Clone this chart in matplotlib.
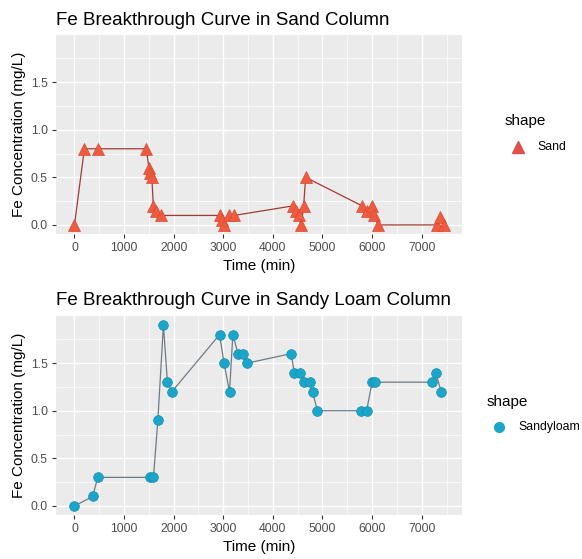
import numpy as np
import matplotlib.pyplot as plt
from matplotlib.lines import Line2D

plt.rcParams['font.family'] = ['Liberation Sans', 'DejaVu Sans']

# Sand column
sand_time = [0, 200, 480, 1450, 1500, 1530, 1560, 1590, 1650, 1740, 2940, 2980, 3010, 3110, 3220,
             4400, 4470, 4520, 4570, 4620, 4660, 5800, 5900, 6000, 6040, 6120, 7300, 7370, 7440]
sand_fe = [0.0, 0.8, 0.8, 0.8, 0.6, 0.55, 0.5, 0.2, 0.15, 0.1, 0.1, 0.05, 0.0, 0.1, 0.1,
           0.2, 0.15, 0.1, 0.0, 0.2, 0.5, 0.2, 0.15, 0.2, 0.1, 0.0, 0.0, 0.08, 0.0]

# Sandy loam column
loam_time = [0, 370, 467, 1519, 1593, 1681, 1793, 1874, 1963, 2926, 3015, 3126, 3193, 3296, 3393,
             3481, 4370, 4430, 4541, 4630, 4741, 4800, 4896, 5778, 5889, 6000, 6052, 7207, 7281, 7393]
loam_fe = [0.0, 0.1, 0.3, 0.3, 0.3, 0.9, 1.9, 1.3, 1.2, 1.8, 1.5, 1.2, 1.8, 1.6, 1.6,
           1.5, 1.6, 1.4, 1.4, 1.3, 1.3, 1.2, 1.0, 1.0, 1.0, 1.3, 1.3, 1.3, 1.4, 1.2]

x_ticks = [0, 1000, 2000, 3000, 4000, 5000, 6000, 7000]
y_ticks = [0.0, 0.5, 1.0, 1.5]

W, H = 582, 559
fig = plt.figure(figsize=(W / 100, H / 100), dpi=100)


def px_axes(left, top, right, bottom):
    return fig.add_axes([left / W, 1 - bottom / H, (right - left) / W, (bottom - top) / H])


def gg_style(ax):
    ax.set_facecolor('#EBEBEB')
    for s in ax.spines.values():
        s.set_visible(False)
    ax.set_xlim(-372, 7812)
    ax.set_ylim(-0.095, 1.995)
    ax.set_xticks(x_ticks)
    ax.set_yticks(y_ticks)
    ax.set_yticklabels(['0.0', '0.5', '1.0', '1.5'])
    ax.set_xticks(np.arange(500, 7800, 1000), minor=True)
    ax.set_yticks([0.25, 0.75, 1.25, 1.75], minor=True)
    ax.grid(True, which='major', color='white', lw=1.0)
    ax.grid(True, which='minor', color='white', lw=0.5)
    ax.set_axisbelow(True)
    ax.tick_params(which='major', length=3, width=0.8, color='#333333',
                   labelsize=8.8, labelcolor='#4D4D4D', pad=3)
    ax.tick_params(which='minor', length=0)
    ax.set_xlabel('Time (min)', fontsize=11, labelpad=3)
    ax.set_ylabel('Fe Concentration (mg/L)', fontsize=11, labelpad=3)


# Top panel: sand
ax1 = px_axes(56, 35, 462, 234)
gg_style(ax1)
ax1.plot(sand_time, sand_fe, color='#A23A33', lw=0.9, zorder=2)
ax1.plot(sand_time, sand_fe, ls='none', marker='^', ms=8, color='#EE5B3F',
         markeredgecolor='#D94A35', markeredgewidth=0.5, zorder=3)
fig.text(56 / W, 1 - 25 / H, 'Fe Breakthrough Curve in Sand Column', fontsize=13.5, va='baseline')

# Bottom panel: sandy loam
ax2 = px_axes(56, 316, 462, 515)
gg_style(ax2)
ax2.plot(loam_time, loam_fe, color='#6D7C86', lw=0.9, zorder=2)
ax2.plot(loam_time, loam_fe, ls='none', marker='o', ms=7, color='#1AA6C9',
         markeredgecolor='#168FB0', markeredgewidth=0.5, zorder=3)
fig.text(56 / W, 1 - 305 / H, 'Fe Breakthrough Curve in Sandy Loam Column', fontsize=13.5, va='baseline')

# Legends
fig.text(505 / W, 1 - 121 / H, 'shape', fontsize=11, va='center')
fig.add_artist(Line2D([518 / W], [1 - 147 / H], transform=fig.transFigure, ls='none',
                      marker='^', ms=8, color='#E0504A'))
fig.text(537 / W, 1 - 147 / H, 'Sand', fontsize=8.8, va='center')

fig.text(487 / W, 1 - 402 / H, 'shape', fontsize=11, va='center')
fig.add_artist(Line2D([499 / W], [1 - 427 / H], transform=fig.transFigure, ls='none',
                      marker='o', ms=7, color='#1AA6C9'))
fig.text(518 / W, 1 - 427 / H, 'Sandyloam', fontsize=8.8, va='center')

fig.savefig('out.png', dpi=100)
